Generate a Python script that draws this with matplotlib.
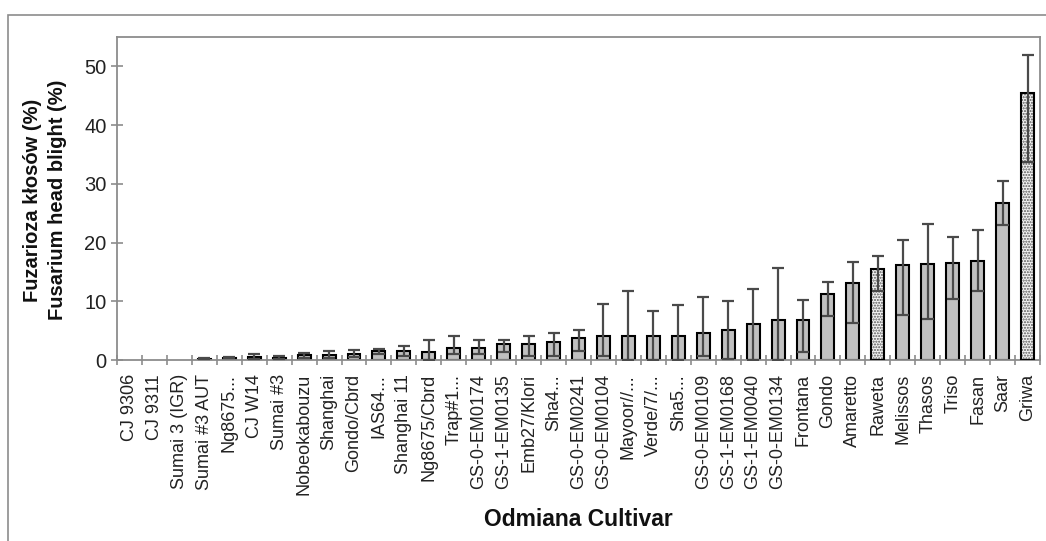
import matplotlib
matplotlib.use("Agg")
import matplotlib.pyplot as plt
import numpy as np
from matplotlib.patches import Rectangle

plt.rcParams['font.family'] = ['Liberation Sans', 'DejaVu Sans']

# Cultivars, ordered by mean infection
cultivars = ["CJ 9306", "CJ 9311", "Sumai 3 (IGR)", "Sumai #3 AUT", "Ng8675...",
             "CJ W14", "Sumai #3", "Nobeokabouzu", "Shanghai", "Gondo/Cbrd",
             "IAS64...", "Shanghai 11", "Ng8675/Cbrd", "Trap#1...", "GS-0-EM0174",
             "GS-1-EM0135", "Emb27/Klori", "Sha4...", "GS-0-EM0241", "GS-0-EM0104",
             "Mayoor//...", "Verde/7/...", "Sha5...", "GS-0-EM0109", "GS-1-EM0168",
             "GS-1-EM0040", "GS-0-EM0134", "Frontana", "Gondo", "Amaretto",
             "Raweta", "Melissos", "Thasos", "Triso", "Fasan", "Saar", "Griwa"]

# Mean FHB (%) and the lower / upper ends of the whiskers
fhb_mean = [0, 0, 0, 0.2, 0.4, 0.5, 0.4, 0.8, 0.9, 1.0,
            1.5, 1.5, 1.4, 2.1, 2.1, 2.7, 2.7, 3.0, 3.7, 4.15,
            4.15, 4.15, 4.15, 4.65, 5.1, 6.1, 6.8, 6.8, 11.25, 13.1,
            15.5, 16.1, 16.3, 16.6, 16.8, 26.7, 45.4]
fhb_low = [0, 0, 0, 0.1, 0.3, 0.1, 0.2, 0.3, 0.4, 0.5,
           1.0, 0.7, 0.0, 1.1, 1.1, 1.3, 0.6, 0.6, 1.6, 0.6,
           0.0, 0.0, 0.0, 0.6, 0.2, 0.0, 0.0, 1.3, 7.5, 6.25,
           11.8, 7.6, 7.0, 10.4, 11.8, 22.95, 33.8]
fhb_high = [0, 0, 0, 0.3, 0.5, 1.0, 0.7, 1.2, 1.6, 1.7,
            1.8, 2.3, 3.4, 4.1, 3.4, 3.4, 4.1, 4.65, 5.1, 9.6,
            11.7, 8.4, 9.4, 10.8, 10.1, 12.05, 15.7, 10.3, 13.2, 16.75,
            17.7, 20.5, 23.2, 21.0, 22.2, 30.5, 51.9]

# Standard (reference) cultivars drawn with a stippled fill
standards = ["Raweta", "Griwa"]

yticks = [0, 10, 20, 30, 40, 50]

W, H = 1046, 541
fig = plt.figure(figsize=(W / 100, H / 100), dpi=100)
ax = fig.add_axes([117 / W, 1 - 360 / H, (1040 - 117) / W, (360 - 37) / H])

x = np.arange(len(cultivars))
mean = np.array(fhb_mean)
low = np.array(fhb_low)
high = np.array(fhb_high)
is_std = np.array([c in standards for c in cultivars])
has_bar = mean > 0

bw = 0.52
plain = has_bar & ~is_std
ax.bar(x[plain], mean[plain], width=bw, color='#c0c0c0', edgecolor='black',
       linewidth=1.5, zorder=2)

stip = has_bar & is_std
ax.bar(x[stip], mean[stip], width=bw, color='#f4f4f4', edgecolor='#555555',
       hatch='......', linewidth=0, zorder=2)
ax.bar(x[stip], mean[stip], width=bw, fill=False, edgecolor='black',
       linewidth=1.5, zorder=3)

has_err = (high > mean) | (low < mean)
eb = ax.errorbar(x[has_err], mean[has_err],
                 yerr=[mean[has_err] - low[has_err], high[has_err] - mean[has_err]],
                 fmt='none', ecolor='#4a4a4a', elinewidth=1.6, capsize=4.6,
                 capthick=1.6, zorder=4)
for cap in eb[1]:
    cap.set_color('black')

ax.set_xlim(-0.5, len(cultivars) - 0.5)
ax.set_ylim(0, 55)

spine_col = '#8c8c8c'
for s in ax.spines.values():
    s.set_color(spine_col)
    s.set_linewidth(1.3)

ax.set_yticks(yticks)
ax.set_yticklabels([str(v) for v in yticks])
ax.tick_params(axis='y', direction='inout', length=9, width=1.2, color=spine_col,
               labelsize=14.5, labelcolor='#222222', pad=3)

# category boundary ticks, labels at category centres
ax.set_xticks(np.arange(len(cultivars) + 1) - 0.5)
ax.set_xticklabels([])
ax.set_xticks(x, minor=True)
ax.set_xticklabels(cultivars, minor=True, rotation=90, fontsize=13,
                   color='#222222')
ax.tick_params(axis='x', which='major', direction='inout', length=7, width=1.2,
               color=spine_col)
ax.tick_params(axis='x', which='minor', length=0, pad=10)

fig.text(45 / W, 1 - 200 / H, "Fuzarioza kłosów (%)\nFusarium head blight (%)",
         rotation=90, ha='center', va='center', multialignment='center',
         fontsize=14.5, fontweight='bold', linespacing=1.4, color='#111111')
fig.text(578 / W, 1 - 519 / H, "Odmiana Cultivar", ha='center', va='center',
         fontsize=16.5, fontweight='bold', color='#111111')

fig.add_artist(Rectangle((8 / W, -0.1), 1.2, 1 - 15 / H + 0.1,
                         transform=fig.transFigure, fill=False,
                         edgecolor=spine_col, linewidth=1.2))

fig.savefig("out.png", dpi=100)
